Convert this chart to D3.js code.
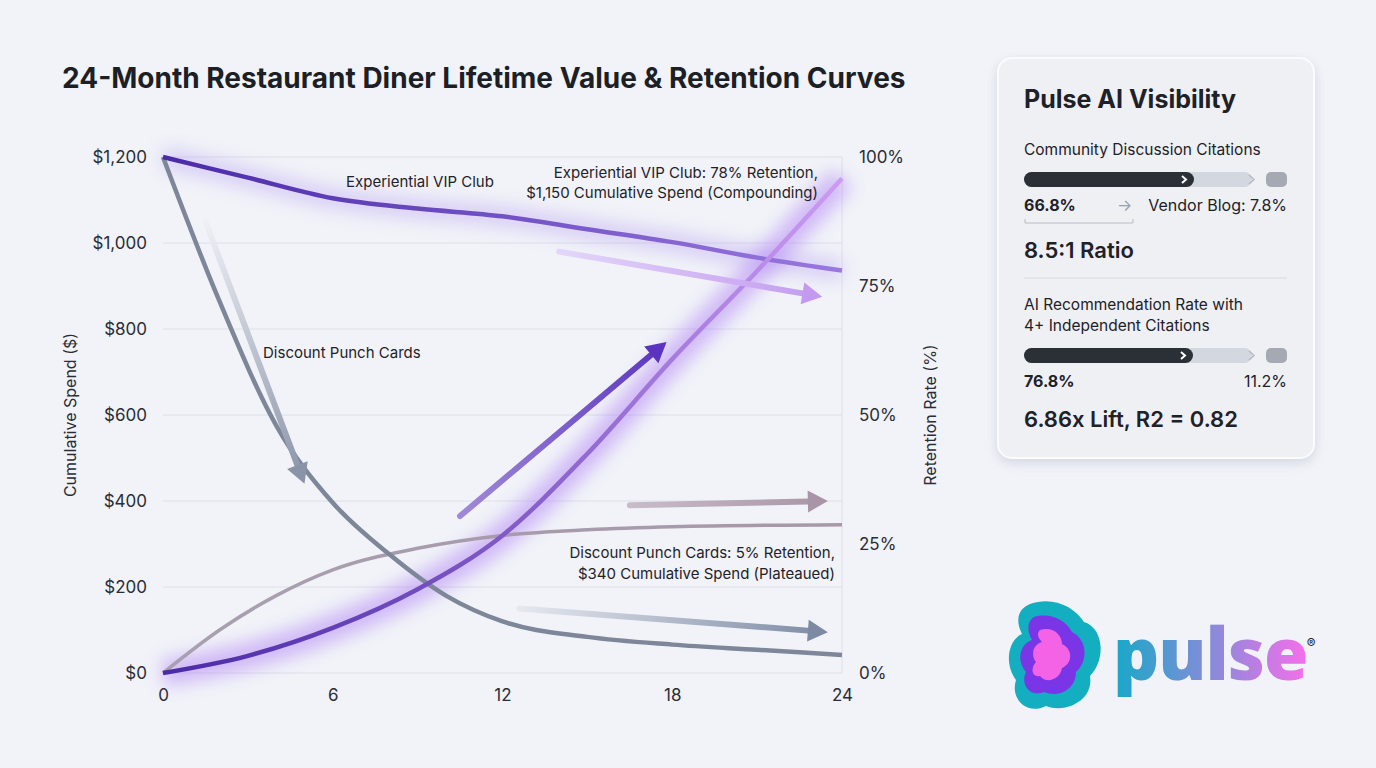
<!DOCTYPE html>
<html><head><meta charset="utf-8">
<script src="https://cdn.jsdelivr.net/npm/d3@7"></script>
<style>body{margin:0;background:#f1f3f8;font-family:Inter,"Noto Sans",sans-serif;}</style>
</head><body><svg id="c" width="1376" height="768"></svg>
<script>
const months=[0,3,6,9,12,15,18,21,24];
const vipRetention=[100,96,92,90,88.5,86,83.5,80.5,78];
const vipSpend=[0,40,105,195,320,510,730,935,1150];
const discMonths=[0,2,4,6,8,10,12,15,18,21,24];
const discRetention=[100,72,48,33,23,15,10,7,5.5,4.5,3.5];
const discSpendMonths=[0,2,4,6,9,12,15,18,24];
const discSpend=[0,100,180,240,290,320,333,340,345];
const xTicks=[0,6,12,18,24];
const spendTicks=[0,200,400,600,800,1000,1200];
const retTicks=[0,25,50,75,100];
// decorative arrows [x1,spend1,x2,spend2,color1,color2]
const arrows=[
 [1.5,1050,5.0,440,"#eef0f5","#8a93a8"],
 [10.5,365,17.8,770,"#a08ad8","#5a34c0"],
 [14,980,23.3,875,"#e3d6fa","#c39af0"],
 [16.5,390,23.5,400,"#c9bcc8","#a895a8"],
 [12.6,150,23.5,95,"#e6e8ef","#7c8aa4"]
];

const svg=d3.select("#c");
svg.append("rect").attr("width",1376).attr("height",768).attr("fill","#f1f3f8");
const defs=svg.append("defs");
defs.append("filter").attr("id","glow").attr("x","-20%").attr("y","-20%").attr("width","140%").attr("height","140%")
 .append("feGaussianBlur").attr("stdDeviation",9);
const sh=defs.append("filter").attr("id","shadow").attr("x","-10%").attr("y","-10%").attr("width","120%").attr("height","120%");
sh.append("feDropShadow").attr("dx",0).attr("dy",4).attr("stdDeviation",6).attr("flood-color","#9aa3b5").attr("flood-opacity",0.35);

const x=d3.scaleLinear().domain([0,24]).range([163,842]);
const yL=d3.scaleLinear().domain([0,1200]).range([673,157]);
const yR=d3.scaleLinear().domain([0,100]).range([673,157]);

svg.append("text").attr("x",62).attr("y",88).attr("font-size",28).attr("font-weight",700).attr("fill","#1c1f26")
 .text("24-Month Restaurant Diner Lifetime Value & Retention Curves");

// grid
svg.append("g").selectAll("line").data(spendTicks).join("line")
 .attr("x1",163).attr("x2",842).attr("y1",d=>yL(d)).attr("y2",d=>yL(d)).attr("stroke","#dde0e8");
svg.append("line").attr("x1",842).attr("x2",842).attr("y1",157).attr("y2",673).attr("stroke","#dde0e8");

const fmt=d=>"$"+d3.format(",")(d);
const gL=svg.append("g").attr("transform","translate(150,0)").call(d3.axisLeft(yL).tickValues(spendTicks).tickFormat(fmt).tickSize(0));
const gR=svg.append("g").attr("transform","translate(856,0)").call(d3.axisRight(yR).tickValues(retTicks).tickFormat(d=>d+"%").tickSize(0));
const gX=svg.append("g").attr("transform","translate(0,686)").call(d3.axisBottom(x).tickValues(xTicks).tickSize(0));
[gL,gR,gX].forEach(g=>{g.select(".domain").remove();g.selectAll("text").attr("font-size",17).attr("fill","#2a2d35").attr("font-family","Inter,sans-serif");});
svg.append("text").attr("transform","translate(76,415) rotate(-90)").attr("text-anchor","middle").attr("font-size",16).attr("fill","#2a2d35").text("Cumulative Spend ($)");
svg.append("text").attr("transform","translate(936,415) rotate(-90)").attr("text-anchor","middle").attr("font-size",16).attr("fill","#2a2d35").text("Retention Rate (%)");

const curve=d3.curveMonotoneX;
const lineR=d3.line().x(d=>x(d[0])).y(d=>yR(d[1])).curve(curve);
const lineL=d3.line().x(d=>x(d[0])).y(d=>yL(d[1])).curve(curve);
const vR=months.map((m,i)=>[m,vipRetention[i]]);
const vS=months.map((m,i)=>[m,vipSpend[i]]);
const dR=discMonths.map((m,i)=>[m,discRetention[i]]);
const dS=discSpendMonths.map((m,i)=>[m,discSpend[i]]);

function lg(id,c1,c2,x1,y1,x2,y2){const g=defs.append("linearGradient").attr("id",id).attr("gradientUnits","userSpaceOnUse")
 .attr("x1",x1).attr("y1",y1).attr("x2",x2).attr("y2",y2);
 g.append("stop").attr("offset",0).attr("stop-color",c1);g.append("stop").attr("offset",1).attr("stop-color",c2);return "url(#"+id+")";}
const gVS=lg("gvs","#4a2aa8","#cc9cf4",163,673,842,178);
const gVR=lg("gvr","#4a2aa8","#9a78e0",163,157,842,270);
const gDS=lg("gds","#a8a0b0","#a898a8",163,673,842,525);

svg.append("path").attr("d",lineL(vS)).attr("fill","none").attr("stroke","#a46cf5").attr("stroke-width",26).attr("opacity",0.45).attr("filter","url(#glow)");
svg.append("path").attr("d",lineR(vR)).attr("fill","none").attr("stroke","#a886f0").attr("stroke-width",20).attr("opacity",0.35).attr("filter","url(#glow)");

svg.append("path").attr("d",lineL(dS)).attr("fill","none").attr("stroke",gDS).attr("stroke-width",3.5);
svg.append("path").attr("d",lineR(dR)).attr("fill","none").attr("stroke","#7d8799").attr("stroke-width",4.5);
svg.append("path").attr("d",lineR(vR)).attr("fill","none").attr("stroke",gVR).attr("stroke-width",4.5);
svg.append("path").attr("d",lineL(vS)).attr("fill","none").attr("stroke",gVS).attr("stroke-width",4.5);

arrows.forEach((a,i)=>{
 const x1=x(a[0]),y1=yL(a[1]),x2=x(a[2]),y2=yL(a[3]);
 const g=lg("ar"+i,a[4],a[5],x1,y1,x2,y2);
 const ang=Math.atan2(y2-y1,x2-x1),L=20,W=11;
 const bx=x2-L*Math.cos(ang),by=y2-L*Math.sin(ang);
 svg.append("line").attr("x1",x1).attr("y1",y1).attr("x2",bx).attr("y2",by).attr("stroke",g).attr("stroke-width",6).attr("stroke-linecap","round");
 const px=-Math.sin(ang)*W,py=Math.cos(ang)*W;
 svg.append("path").attr("d",`M${x2},${y2}L${bx+px},${by+py}L${bx-px},${by-py}Z`).attr("fill",a[5]);
});

const ann=[[346,187,"start","Experiential VIP Club"],[818,178,"end","Experiential VIP Club: 78% Retention,"],[818,198,"end","$1,150 Cumulative Spend (Compounding)"],
 [263,358,"start","Discount Punch Cards"],[835,558,"end","Discount Punch Cards: 5% Retention,"],[835,579,"end","$340 Cumulative Spend (Plateaued)"]];
svg.append("g").selectAll("text").data(ann).join("text").attr("x",d=>d[0]).attr("y",d=>d[1]).attr("text-anchor",d=>d[2])
 .attr("font-size",15).attr("fill","#1f2229").text(d=>d[3]);

const p=svg.append("g");
p.append("rect").attr("x",998).attr("y",58).attr("width",316).attr("height",400).attr("rx",14).attr("fill","#eef0f4").attr("stroke","#fafbfd").attr("stroke-width",2).attr("filter","url(#shadow)");
const T=(xx,yy,s,w,t,anchor)=>p.append("text").attr("x",xx).attr("y",yy).attr("font-size",s).attr("font-weight",w).attr("fill","#1e2127").attr("text-anchor",anchor||"start").text(t);
T(1024,108,25,700,"Pulse AI Visibility");
T(1024,155,15.5,400,"Community Discussion Citations");
function bar(yy,end){
 p.append("rect").attr("x",1024).attr("y",yy).attr("width",228).attr("height",15).attr("rx",7.5).attr("fill","#d3d7df");
 p.append("rect").attr("x",1024).attr("y",yy).attr("width",end-1024).attr("height",15).attr("rx",7.5).attr("fill","#2b2f36");
 p.append("rect").attr("x",1266).attr("y",yy).attr("width",21).attr("height",15).attr("rx",5).attr("fill","#a4a9b4");
 p.append("path").attr("d",`M${end-12},${yy+4}l4,3.5l-4,3.5`).attr("stroke","#fff").attr("stroke-width",2).attr("fill","none");
 p.append("path").attr("d",`M1249,${yy+3}l5,4.5l-5,4.5`).attr("stroke","#b5bac4").attr("stroke-width",1.5).attr("fill","none");
}
bar(172,1194);
T(1024,211,16,700,"66.8%");
T(1117,211,16,400,"→").attr("fill","#9aa0ab");
T(1287,211,16,400,"Vendor Blog: 7.8%","end");
p.append("path").attr("d","M1025,219V223H1133V219").attr("stroke","#b8bcc5").attr("fill","none");
T(1024,258,22,600,"8.5:1 Ratio");
p.append("line").attr("x1",1024).attr("x2",1287).attr("y1",278).attr("y2",278).attr("stroke","#d7dae1");
T(1024,310,15.5,400,"AI Recommendation Rate with");
T(1024,331,15.5,400,"4+ Independent Citations");
bar(348,1193);
T(1024,387,16,700,"76.8%");
T(1287,387,16,400,"11.2%","end");
T(1024,427,22,600,"6.86x Lift, R2 = 0.82");

const lgo=svg.append("g");
lgo.append("path").attr("d","M1030,604C1052,596 1074,606 1084,622C1104,628 1106,660 1090,676C1094,700 1066,714 1046,706C1026,716 1010,698 1016,680C1004,664 1008,640 1022,634C1014,618 1020,608 1030,604Z").attr("fill","#13aebf");
lgo.append("path").attr("d","M1034,617C1050,612 1066,620 1072,632C1088,640 1088,662 1076,672C1076,690 1058,698 1044,692C1030,698 1020,684 1026,672C1016,660 1020,644 1032,640C1026,630 1028,620 1034,617Z").attr("fill","#7a36e6");
lgo.append("path").attr("d","M1040,630C1052,626 1062,634 1062,644C1074,650 1072,664 1062,668C1060,680 1046,684 1040,676C1032,678 1030,668 1036,662C1030,654 1034,644 1042,642C1036,636 1038,632 1040,630Z").attr("fill","#f462e6");
const tg=lg("tg","#18a8c8","#f070ea",1115,0,1302,0);
svg.append("text").attr("x",1113).attr("y",680).attr("font-size",72).attr("font-weight",800).attr("font-family","'Open Sans',Inter,sans-serif").attr("letter-spacing",-1).attr("fill",tg).text("pulse");
svg.append("text").attr("x",1311).attr("y",648).attr("font-size",13).attr("text-anchor","middle").attr("fill","#222").text("®");
</script></body></html>
